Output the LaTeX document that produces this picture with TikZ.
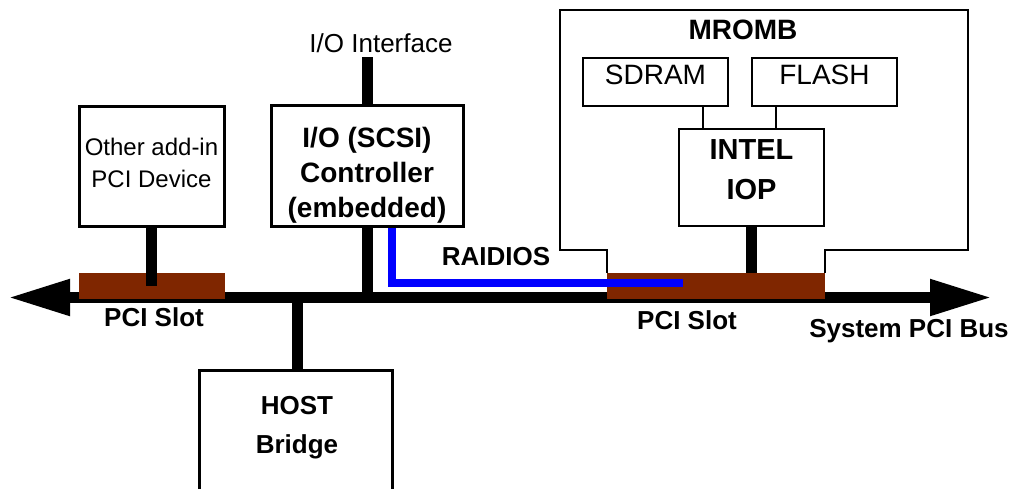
\documentclass[tikz,border=0pt]{standalone}
\usepackage{fontspec}
\setmainfont{Liberation Sans}
\usetikzlibrary{arrows.meta}

\definecolor{slotbrown}{RGB}{127,38,0}

\begin{document}
\begin{tikzpicture}[x=0.5pt, y=-0.5pt]
    \tikzset{
        box/.style={draw, line width=1.5pt, inner sep=0pt, align=center},
        chip/.style={draw, line width=1pt, inner sep=0pt, align=center,
            minimum width=72.5pt},
        slot/.style={fill=slotbrown, inner sep=0pt, minimum height=13pt},
        txt/.style={inner sep=0pt, align=center, font=\fontsize{13}{16}\selectfont},
        btxt/.style={txt, font=\fontsize{13}{16}\selectfont\bfseries},
        link/.style={line width=5.5pt},
        wire/.style={line width=1pt},
        raid/.style={line width=4pt, blue},
        bus/.style={line width=5.5pt,
            {Triangle[length=31pt, width=17pt]}-{Triangle[length=31pt, width=17pt]}}
    }

    \useasboundingbox (0,0) rectangle (1018,489);

    \coordinate (busL) at (8,297.5);
    \coordinate (busR) at (992,297.5);
    \draw[bus] (busL) -- (busR);

    \draw node[slot, minimum width=73pt] (slotL) at (152,286) {};
    \draw node[slot, minimum width=109pt] (slotR) at (716,286) {};

    \draw node[box, minimum width=72.5pt, minimum height=60pt, text depth=3pt,
        font=\fontsize{12}{16}\selectfont] (dev) at (151.5,166) {Other add-in\\PCI Device};
    \draw node[box, minimum width=96pt, minimum height=60.5pt, text height=51.5pt,
        text depth=0pt, font=\fontsize{14}{17.5}\selectfont\bfseries] (ctrl) at (367,165.5)
        {I/O (SCSI)\\Controller\\(embedded)};
    \draw node[txt] (ioif) at (381,43) {I/O Interface};
    \coordinate (ioend) at (369,57);

    \draw node[btxt, font=\fontsize{13}{19.5}\selectfont\bfseries] (host) at (297,428) {HOST\\Bridge};
    \draw[line width=1.5pt] (199,489) |- (392,370) -- (392,489);
    \coordinate (hosttop) at (297,370);

    \draw node[btxt, font=\fontsize{14}{17}\selectfont\bfseries] (mromb) at (743,30) {MROMB};
    \draw node[chip, minimum height=24pt, text depth=7pt,
        font=\fontsize{14}{17}\selectfont] (sdram) at (655.5,82) {SDRAM};
    \draw node[chip, minimum height=24pt, text depth=7pt,
        font=\fontsize{14}{17}\selectfont] (flash) at (824.5,82) {FLASH};
    \draw node[chip, minimum height=48.5pt, text depth=7.5pt,
        font=\fontsize{14.5}{20}\selectfont\bfseries] (iop) at (751.5,177.5) {INTEL\\IOP};
    \draw[wire] (slotR.north west) -- ++(0,-23) -| (560,10) -| (968,250) -| (slotR.north east);

    \foreach \m/\x in {sdram/703, flash/776}{
        \draw[wire] (\x,0 |- \m.south) -- (\x,0 |- iop.north);
    }

    \foreach \x/\y in {dev/slotL.center, ctrl/busL, iop/slotR.north}{
        \draw[link] (\x.south) -- (\x.south |- \y);
    }
    \draw[link] (ctrl.north) -- (ctrl.north |- ioend);
    \draw[link] (busL -| hosttop) -- (hosttop);

    \coordinate (raidend) at (683,282.5);
    \draw[raid] (392,0 |- ctrl.south) |- (raidend);
    \draw node[btxt] (raidlbl) at (496,257) {RAIDIOS};

    \draw node[btxt] (slotLlbl) at (154,317) {PCI Slot};
    \draw node[btxt] (slotRlbl) at (687,320) {PCI Slot};
    \draw node[btxt] (buslbl) at (909,331.5) {System PCI Bus};
\end{tikzpicture}
\end{document}
